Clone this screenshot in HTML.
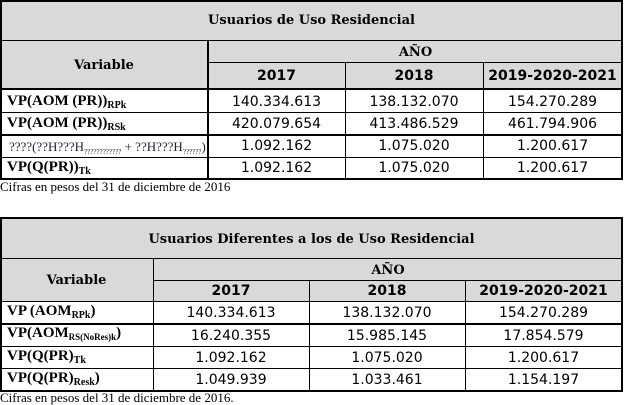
<!DOCTYPE html>
<html><head><meta charset="utf-8"><style>
*{margin:0;padding:0;box-sizing:border-box}
body{width:624px;height:404px;background:#fff;position:relative;overflow:hidden;font-family:"Liberation Serif",serif;color:#000}
.b{position:absolute;background:#000}
.g{position:absolute;background:#d9d9d9}
.t{position:absolute;white-space:nowrap;line-height:1}
.h{font-family:"DejaVu Serif",serif;font-weight:bold;font-size:13px}
.y{font-family:"DejaVu Sans",sans-serif;font-weight:bold;font-size:14px;text-align:center}
.n{font-family:"DejaVu Sans",sans-serif;font-size:14px;text-align:center}
.v{font-family:"Liberation Serif",serif;font-weight:bold;font-size:15px;left:7px}
sub{font-size:10px;vertical-align:-3px}
.f{font-size:13px;font-family:"Liberation Serif",serif}
</style></head><body>
<!-- Table 1 -->
<div class="g" style="left:0;top:0;width:623px;height:89px"></div>
<div class="b" style="left:0;top:0;width:623px;height:2px"></div>
<div class="b" style="left:0;top:40px;width:623px;height:1px"></div>
<div class="b" style="left:208px;top:62px;width:415px;height:1px"></div>
<div class="b" style="left:0;top:88px;width:623px;height:2px"></div>
<div class="b" style="left:0;top:112px;width:623px;height:1px"></div>
<div class="b" style="left:0;top:134px;width:623px;height:2px"></div>
<div class="b" style="left:0;top:157px;width:623px;height:1px"></div>
<div class="b" style="left:0;top:178px;width:623px;height:2px"></div>
<div class="b" style="left:0;top:0;width:2px;height:180px"></div>
<div class="b" style="left:621px;top:0;width:2px;height:180px"></div>
<div class="b" style="left:207px;top:40px;width:2px;height:140px"></div>
<div class="b" style="left:345px;top:62px;width:1px;height:118px"></div>
<div class="b" style="left:483px;top:62px;width:1px;height:118px"></div>
<div class="t h" style="left:0;width:623px;top:14px;text-align:center">Usuarios de Uso Residencial</div>
<div class="t h" style="left:0;width:208px;top:59px;text-align:center">Variable</div>
<div class="t h" style="left:208px;width:415px;top:46px;text-align:center">AÑO</div>
<div class="t y" style="left:208px;width:137px;top:69px">2017</div>
<div class="t y" style="left:345px;width:138px;top:69px">2018</div>
<div class="t y" style="left:483px;width:139px;top:69px">2019-2020-2021</div>
<div class="t v" style="top:94px">VP(AOM (PR))<sub>RPk</sub></div>
<div class="t v" style="top:116px">VP(AOM (PR))<sub>RSk</sub></div>
<div class="t" style="left:9px;top:140px;font-size:13px;color:#223">????(??H???H<sub style="font-size:7px">????????????</sub> + ??H???H<sub style="font-size:7px">??????</sub>)</div>
<div class="t v" style="top:160px">VP(Q(PR))<sub>Tk</sub></div>
<div class="t n" style="left:208px;width:137px;top:95px">140.334.613</div>
<div class="t n" style="left:345px;width:138px;top:95px">138.132.070</div>
<div class="t n" style="left:483px;width:139px;top:95px">154.270.289</div>
<div class="t n" style="left:208px;width:137px;top:117px">420.079.654</div>
<div class="t n" style="left:345px;width:138px;top:117px">413.486.529</div>
<div class="t n" style="left:483px;width:139px;top:117px">461.794.906</div>
<div class="t n" style="left:208px;width:137px;top:139px">1.092.162</div>
<div class="t n" style="left:345px;width:138px;top:139px">1.075.020</div>
<div class="t n" style="left:483px;width:139px;top:139px">1.200.617</div>
<div class="t n" style="left:208px;width:137px;top:161px">1.092.162</div>
<div class="t n" style="left:345px;width:138px;top:161px">1.075.020</div>
<div class="t n" style="left:483px;width:139px;top:161px">1.200.617</div>
<div class="t f" style="left:0;top:180px">Cifras en pesos del 31 de diciembre de 2016</div>

<!-- Table 2 -->
<div class="g" style="left:0;top:218px;width:623px;height:83px"></div>
<div class="b" style="left:0;top:217px;width:623px;height:2px"></div>
<div class="b" style="left:0;top:258px;width:623px;height:1px"></div>
<div class="b" style="left:153px;top:280px;width:470px;height:1px"></div>
<div class="b" style="left:0;top:301px;width:623px;height:1px"></div>
<div class="b" style="left:0;top:323px;width:623px;height:2px"></div>
<div class="b" style="left:0;top:346px;width:623px;height:1px"></div>
<div class="b" style="left:0;top:368px;width:623px;height:1px"></div>
<div class="b" style="left:0;top:390px;width:623px;height:2px"></div>
<div class="b" style="left:0;top:217px;width:2px;height:175px"></div>
<div class="b" style="left:621px;top:217px;width:2px;height:175px"></div>
<div class="b" style="left:153px;top:258px;width:1px;height:134px"></div>
<div class="b" style="left:309px;top:280px;width:1px;height:112px"></div>
<div class="b" style="left:465px;top:280px;width:1px;height:112px"></div>
<div class="t h" style="left:0;width:623px;top:233px;text-align:center">Usuarios Diferentes a los de Uso Residencial</div>
<div class="t h" style="left:0;width:153px;top:274px;text-align:center">Variable</div>
<div class="t h" style="left:153px;width:470px;top:264px;text-align:center">AÑO</div>
<div class="t y" style="left:153px;width:156px;top:284px">2017</div>
<div class="t y" style="left:309px;width:156px;top:284px">2018</div>
<div class="t y" style="left:465px;width:157px;top:284px">2019-2020-2021</div>
<div class="t v" style="top:304px">VP (AOM<sub>RPk</sub>)</div>
<div class="t v" style="top:326px">VP(AOM<sub style="font-size:9px">RS(NoRes)k</sub>)</div>
<div class="t v" style="top:349px">VP(Q(PR)<sub>Tk</sub></div>
<div class="t v" style="top:371px">VP(Q(PR)<sub>Resk</sub>)</div>
<div class="t n" style="left:153px;width:156px;top:306px">140.334.613</div>
<div class="t n" style="left:309px;width:156px;top:306px">138.132.070</div>
<div class="t n" style="left:465px;width:157px;top:306px">154.270.289</div>
<div class="t n" style="left:153px;width:156px;top:329px">16.240.355</div>
<div class="t n" style="left:309px;width:156px;top:329px">15.985.145</div>
<div class="t n" style="left:465px;width:157px;top:329px">17.854.579</div>
<div class="t n" style="left:153px;width:156px;top:351px">1.092.162</div>
<div class="t n" style="left:309px;width:156px;top:351px">1.075.020</div>
<div class="t n" style="left:465px;width:157px;top:351px">1.200.617</div>
<div class="t n" style="left:153px;width:156px;top:373px">1.049.939</div>
<div class="t n" style="left:309px;width:156px;top:373px">1.033.461</div>
<div class="t n" style="left:465px;width:157px;top:373px">1.154.197</div>
<div class="t f" style="left:0;top:391px">Cifras en pesos del 31 de diciembre de 2016.</div>
</body></html>
